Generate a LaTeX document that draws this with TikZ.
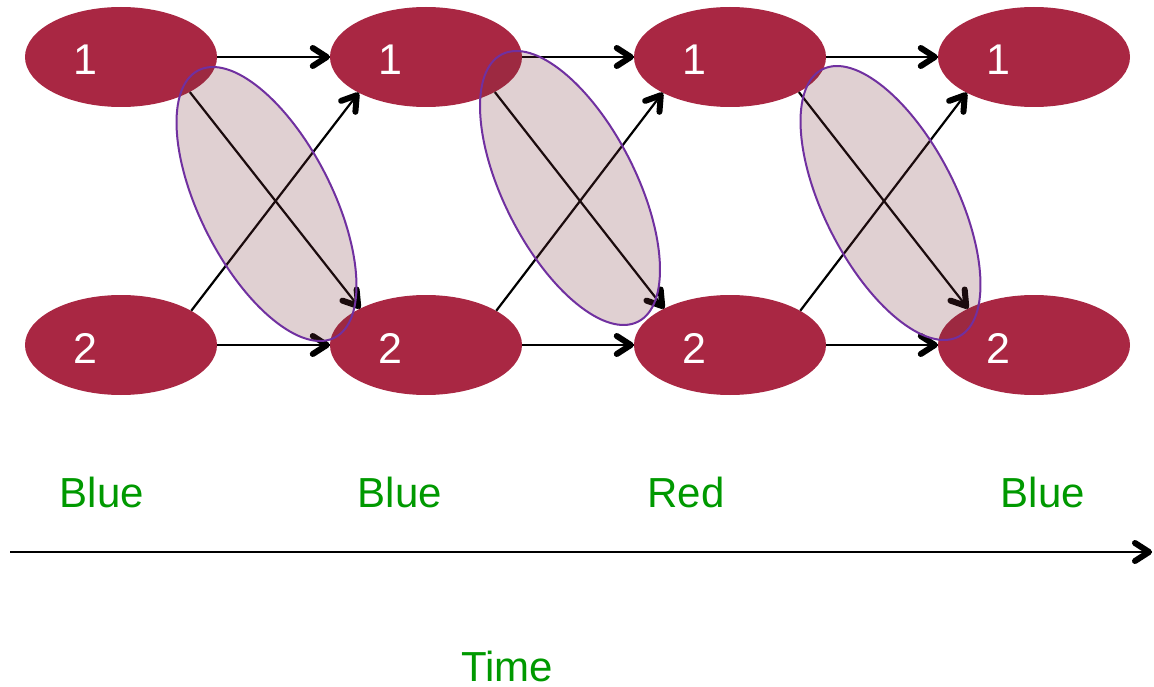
\documentclass[tikz,border=0pt]{standalone}
\usepackage{fontspec}
\setmainfont{Liberation Sans}
\usetikzlibrary{decorations.markings,shapes.geometric}
\definecolor{statered}{RGB}{169,39,67}
\definecolor{labelgreen}{RGB}{0,153,0}
\definecolor{groupfill}{RGB}{120,50,59}
\definecolor{grouppurple}{RGB}{112,48,160}
\tikzset{
  state/.style={ellipse, fill=statered, draw=none, minimum width=192pt, minimum height=100pt, inner sep=0pt},
  num/.style={text=white, anchor=base, inner sep=0pt, font=\fontsize{43}{48}\selectfont},
  tag/.style={text=labelgreen, anchor=base, inner sep=0pt, font=\fontsize{42}{48}\selectfont},
  % bold open arrowhead placed at the end of a connector
  barbhead/.style={decoration={markings, mark=at position 1 with {
      \draw[line width=6pt, line cap=round, line join=round]
        (-17pt,9pt) -- (-3pt,0pt) -- (-17pt,-9pt);}},
    postaction={decorate}},
  link/.style={line width=2.2pt, barbhead},
  group/.style={fill=groupfill, fill opacity=0.23, draw=grouppurple, draw opacity=1, line width=2pt}
}
\begin{document}
\begin{tikzpicture}[x=1pt,y=1pt]
\useasboundingbox (0,0) rectangle (1154,-687);

% states at each time step
\foreach \n/\x in {a/121,b/426,c/730,d/1034}{
  \node[state] (\n1) at (\x,-57) {};
  \node[state] (\n2) at (\x,-345) {};
  \node[num] (\n1t) at (\x-36,-75) {1};
  \node[num] (\n2t) at (\x-36,-363) {2};
}

% transitions between consecutive steps
\foreach \p/\q in {a/b,b/c,c/d}{
  \draw[link] (\p1.east) -- (\q1.west);
  \draw[link] (\p2.east) -- (\q2.west);
  \draw[link] (\p1.-27) -- (\q2.151);
  \draw[link] (\p2.26) -- (\q1.208);
}

% highlighted pairs
\draw[group, rotate around={-63:(266.5,-204)}] (266.5,-204) ellipse (150 and 66);
\draw[group, rotate around={-63:(570,-188)}] (570,-188) ellipse (150 and 66);
\draw[group, rotate around={-63:(890.5,-203)}] (890.5,-203) ellipse (150 and 66);

% observations
\node[tag] (o1) at (102,-507) {Blue};
\node[tag] (o2) at (400,-507) {Blue};
\node[tag] (o3) at (686,-507) {Red};
\node[tag] (o4) at (1043,-507) {Blue};

% time axis
\coordinate (t0) at (10,-552);
\coordinate (t1) at (1152,-552);
\draw[link] (t0) -- (t1);
\node[tag] (time) at (507,-681) {Time};
\end{tikzpicture}
\end{document}
